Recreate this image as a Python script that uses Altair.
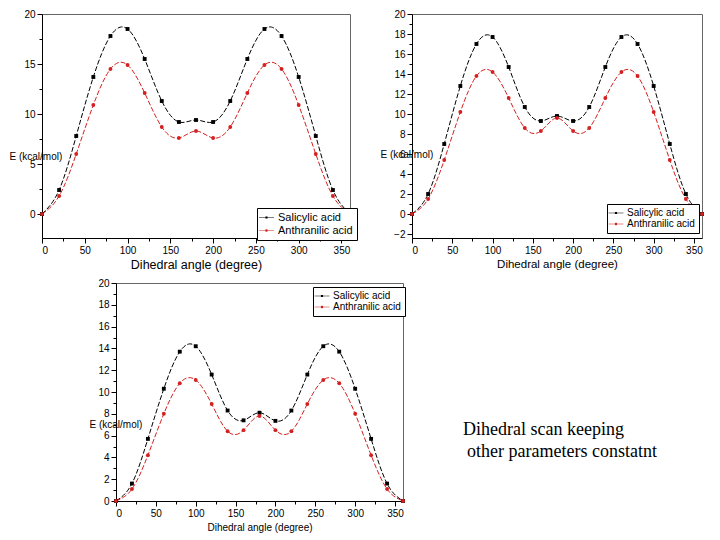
import altair as alt
import pandas as pd

angles = list(range(0, 361, 20))
series_names = ["Salicylic acid", "Anthranilic acid"]

p1_sal = [0, 2.4, 7.8, 13.7, 17.8, 18.5, 15.5, 11.3, 9.2, 9.4, 9.2, 11.3, 15.5, 18.5, 17.8, 13.7, 7.8, 2.4, 0]
p1_ant = [0, 1.8, 6.0, 10.9, 14.5, 14.9, 12.1, 8.7, 7.6, 8.3, 7.6, 8.7, 12.1, 14.9, 14.5, 10.9, 6.0, 1.8, 0]
p2_sal = [0, 2.0, 7.0, 12.8, 17.0, 17.7, 14.7, 10.7, 9.3, 9.8, 9.3, 10.7, 14.7, 17.7, 17.0, 12.8, 7.0, 2.0, 0]
p2_ant = [0, 1.5, 5.4, 10.2, 13.8, 14.2, 11.6, 8.6, 8.3, 9.6, 8.3, 8.6, 11.6, 14.2, 13.8, 10.2, 5.4, 1.5, 0]
p3_sal = [0, 1.6, 5.7, 10.3, 13.7, 14.2, 11.6, 8.3, 7.4, 8.1, 7.35, 8.3, 11.6, 14.2, 13.7, 10.3, 5.7, 1.6, 0]
p3_ant = [0, 1.1, 4.2, 8.0, 10.8, 11.1, 8.9, 6.4, 6.5, 7.8, 6.5, 6.4, 8.9, 11.1, 10.8, 8.0, 4.2, 1.1, 0]

note_lines = ["Dihedral scan keeping", "other parameters constatnt"]

FONT = "Liberation Sans"
COLORS = ["#000000", "#d42020"]
# legend glyphs: short line with the series marker in the middle
LEG_SHAPES = [
    "M-1.5,-0.05H1.5V0.05H-1.5Z M-0.22,-0.22H0.22V0.22H-0.22Z",
    "M-1.5,-0.05H1.5V0.05H-1.5Z M-0.25,0A0.25,0.25 0 1,1 0.25,0A0.25,0.25 0 1,1 -0.25,0Z",
]

RES = dict(fill="independent", shape="independent", color="independent")


def frame(sal, ant):
    rows = []
    for a, s, t in zip(angles, sal, ant):
        rows.append({"angle": a, "E": s, "series": series_names[0]})
        rows.append({"angle": a, "E": t, "series": series_names[1]})
    return pd.DataFrame(rows)


def panel(sal, ant, ydom, ymajor, yminor, width, height, legxy, ytitle_xy,
          label_size=10, xtitle_size=12, legend_size=10, xtitle_pad=3):
    df = frame(sal, ant)
    yvals = []
    v = 0.0
    while v >= ydom[0] - 1e-9:
        yvals.append(round(v, 3))
        v -= yminor
    v = yminor
    while v <= ydom[1] + 1e-9:
        yvals.append(round(v, 3))
        v += yminor
    yvals = sorted(yvals)
    xaxis = alt.Axis(
        values=list(range(0, 361, 25)),
        labelExpr="datum.value % 50 == 0 ? datum.label : ''",
        tickSize={"condition": {"test": "datum.value % 50 != 0", "value": 3}, "value": 5},
        title="Dihedral angle (degree)", titleFontSize=xtitle_size, titleFontWeight="normal",
        titlePadding=xtitle_pad, labelFontSize=label_size, grid=False,
    )
    yaxis = alt.Axis(
        values=yvals,
        labelExpr=f"abs(datum.value % {ymajor}) < 0.001 ? datum.label : ''",
        tickSize={"condition": {"test": f"abs(datum.value % {ymajor}) > 0.001", "value": 3}, "value": 5},
        title="E (kcal/mol)", titleAngle=0, titleAlign="left", titleBaseline="middle",
        titleX=ytitle_xy[0], titleY=ytitle_xy[1], titleFontSize=10, titleFontWeight="normal",
        labelFontSize=label_size, grid=False,
    )
    x = alt.X("angle:Q", scale=alt.Scale(domain=[0, 360], nice=False, zero=False), axis=xaxis)
    y = alt.Y("E:Q", scale=alt.Scale(domain=ydom, nice=False, zero=False), axis=yaxis)
    leg = alt.Legend(orient="none", legendX=legxy[0], legendY=legxy[1], title=None,
                     strokeColor="#000000", fillColor="#ffffff", padding=4,
                     labelFontSize=legend_size, labelFont=FONT, symbolSize=100,
                     symbolStrokeWidth=0, rowPadding=1, labelOffset=6)
    color = alt.Color("series:N", scale=alt.Scale(domain=series_names, range=COLORS), legend=leg)
    base = alt.Chart(df)
    lines = base.mark_line(interpolate="natural", strokeWidth=1, strokeDash=[5, 2]).encode(
        x=x, y=y, color=color)
    squares = base.transform_filter(alt.datum.series == series_names[0]).mark_square(
        size=15, opacity=1).encode(x=x, y=y, color=color)
    circles = base.transform_filter(alt.datum.series == series_names[1]).mark_circle(
        size=15, opacity=1).encode(x=x, y=y, color=color)
    legend_layer = base.transform_filter("false").mark_point(filled=True, opacity=1).encode(
        x=x, y=y, color=color,
        shape=alt.Shape("series:N", scale=alt.Scale(domain=series_names, range=LEG_SHAPES), legend=leg))
    return alt.layer(lines, squares, circles, legend_layer).properties(
        width=width, height=height, view=alt.ViewBackground(stroke="#666666", strokeWidth=1))


p1 = panel(p1_sal, p1_ant, [-2.4, 20], 5, 2.5, 308, 224, (215, 194), (-33, 142),
           label_size=10, xtitle_size=12.5, legend_size=11, xtitle_pad=3)
p2 = panel(p2_sal, p2_ant, [-2.4, 20], 2, 1, 290, 224, (195, 190), (-32, 140),
           label_size=10, xtitle_size=11.5, legend_size=10, xtitle_pad=3)
p3 = panel(p3_sal, p3_ant, [0, 20], 2, 1, 287, 218, (197, 4), (-27, 141),
           label_size=10, xtitle_size=10, legend_size=10, xtitle_pad=4)

spacer = alt.Chart(pd.DataFrame({"a": [0]})).mark_point(opacity=0).encode(
    x=alt.value(0), y=alt.value(0)).properties(width=45, height=218)

note_df = pd.DataFrame({"line": note_lines, "row": [0, 1], "indent": [0, 4]})
note = alt.Chart(note_df).mark_text(align="left", baseline="middle", font="Liberation Serif",
                                    fontSize=18, color="#000000").encode(
    text="line:N",
    x=alt.X("indent:Q", axis=None, scale=alt.Scale(domain=[0, 4], range=[56, 60])),
    y=alt.Y("row:Q", axis=None, scale=alt.Scale(domain=[0, 1], range=[147, 169])),
).properties(width=260, height=218)

top = alt.hconcat(p1, p2, spacing=21).resolve_scale(**RES).resolve_legend(**RES)
bottom = alt.hconcat(spacer, p3, note, spacing=0).resolve_scale(**RES).resolve_legend(**RES)
chart = alt.vconcat(top, bottom, spacing=6).properties(
    padding=0, background="#ffffff"
).configure_view(stroke="transparent").configure_axis(
    labelFont=FONT, titleFont=FONT, domainColor="#000000", tickColor="#000000",
    labelColor="#000000", titleColor="#000000"
).resolve_scale(**RES).resolve_legend(**RES)

chart.save("out.html", embed_options={"renderer": "svg", "actions": False})
